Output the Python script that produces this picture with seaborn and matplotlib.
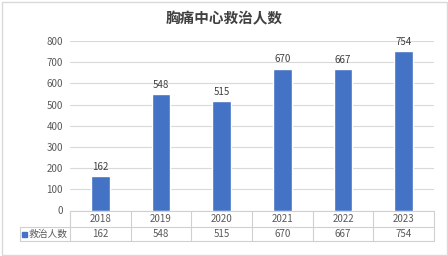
import matplotlib
matplotlib.use("Agg")
import matplotlib.pyplot as plt
import seaborn as sns
import pandas as pd
from matplotlib.patches import Rectangle

years = ["2018", "2019", "2020", "2021", "2022", "2023"]
values = [162, 548, 515, 670, 667, 754]
series_name = "救治人数"
title = "胸痛中心救治人数"
yticks = [0, 100, 200, 300, 400, 500, 600, 700, 800]

sns.set_theme(style="white")
plt.rcParams['font.family'] = ['Noto Sans CJK SC', 'DejaVu Sans']

W, H = 448, 256
fig = plt.figure(figsize=(W / 100, H / 100), dpi=100)
left, right, top, bottom = 70, 434, 41, 210.5
ax = fig.add_axes([left / W, 1 - bottom / H, (right - left) / W, (bottom - top) / H])

df = pd.DataFrame({"year": years, "value": values})
sns.barplot(data=df, x="year", y="value", color="#4472C4", saturation=1,
            width=0.31, ax=ax)
ax.set_xlim(-0.5, len(years) - 0.5)
ax.set_ylim(0, 800)
ax.set_yticks(yticks)
ax.set_yticklabels([str(t) for t in yticks], fontsize=7, color="#595959")
ax.tick_params(axis="y", length=0, pad=5)
ax.set_xticks([])
ax.set_xlabel("")
ax.set_ylabel("")
for s in ax.spines.values():
    s.set_visible(False)
ax.yaxis.grid(True, color="#D9D9D9", linewidth=0.8)
ax.set_axisbelow(True)

for c in ax.containers:
    ax.bar_label(c, labels=[str(v) for v in values], fontsize=7,
                 color="#404040", padding=3)

# data table
trans = ax.get_xaxis_transform()
ph = bottom - top
r1 = -(227 - bottom) / ph
r2 = -(241 - bottom) / ph
x_left_row2 = -0.5 - (left - 20) / ((right - left) / len(years))
lc = "#D0D0D0"
lw = 0.8
ax.plot([-0.5, 5.5], [0, 0], transform=trans, color=lc, lw=lw, clip_on=False)
ax.plot([x_left_row2, 5.5], [r1, r1], transform=trans, color=lc, lw=lw, clip_on=False)
ax.plot([x_left_row2, 5.5], [r2, r2], transform=trans, color=lc, lw=lw, clip_on=False)
ax.plot([x_left_row2, x_left_row2], [r1, r2], transform=trans, color=lc, lw=lw, clip_on=False)
for i in range(len(years) + 1):
    xb = i - 0.5
    ax.plot([xb, xb], [0, r2], transform=trans, color=lc, lw=lw, clip_on=False)
for i, (yr, v) in enumerate(zip(years, values)):
    ax.text(i, r1 / 2, yr, transform=trans, ha="center", va="center",
            fontsize=7, color="#595959")
    ax.text(i, (r1 + r2) / 2, str(v), transform=trans, ha="center", va="center",
            fontsize=7, color="#595959")
# legend key
fig.patches.append(Rectangle((22 / W, 1 - 237 / H), 5 / W, 5 / H,
                             transform=fig.transFigure, color="#4472C4"))
fig.text(29 / W, 1 - 234 / H, series_name, ha="left", va="center",
         fontsize=7, color="#595959")

fig.text(0.5, 1 - 18 / H, title, ha="center", va="center", fontsize=10.5,
         fontweight="bold", color="#404040")

fig.patches.append(Rectangle((1.5 / W, 1.5 / H), (W - 3) / W, (H - 3) / H,
                             transform=fig.transFigure, fill=False,
                             edgecolor="#D9D9D9", linewidth=1))

fig.savefig("out.png", dpi=100)
